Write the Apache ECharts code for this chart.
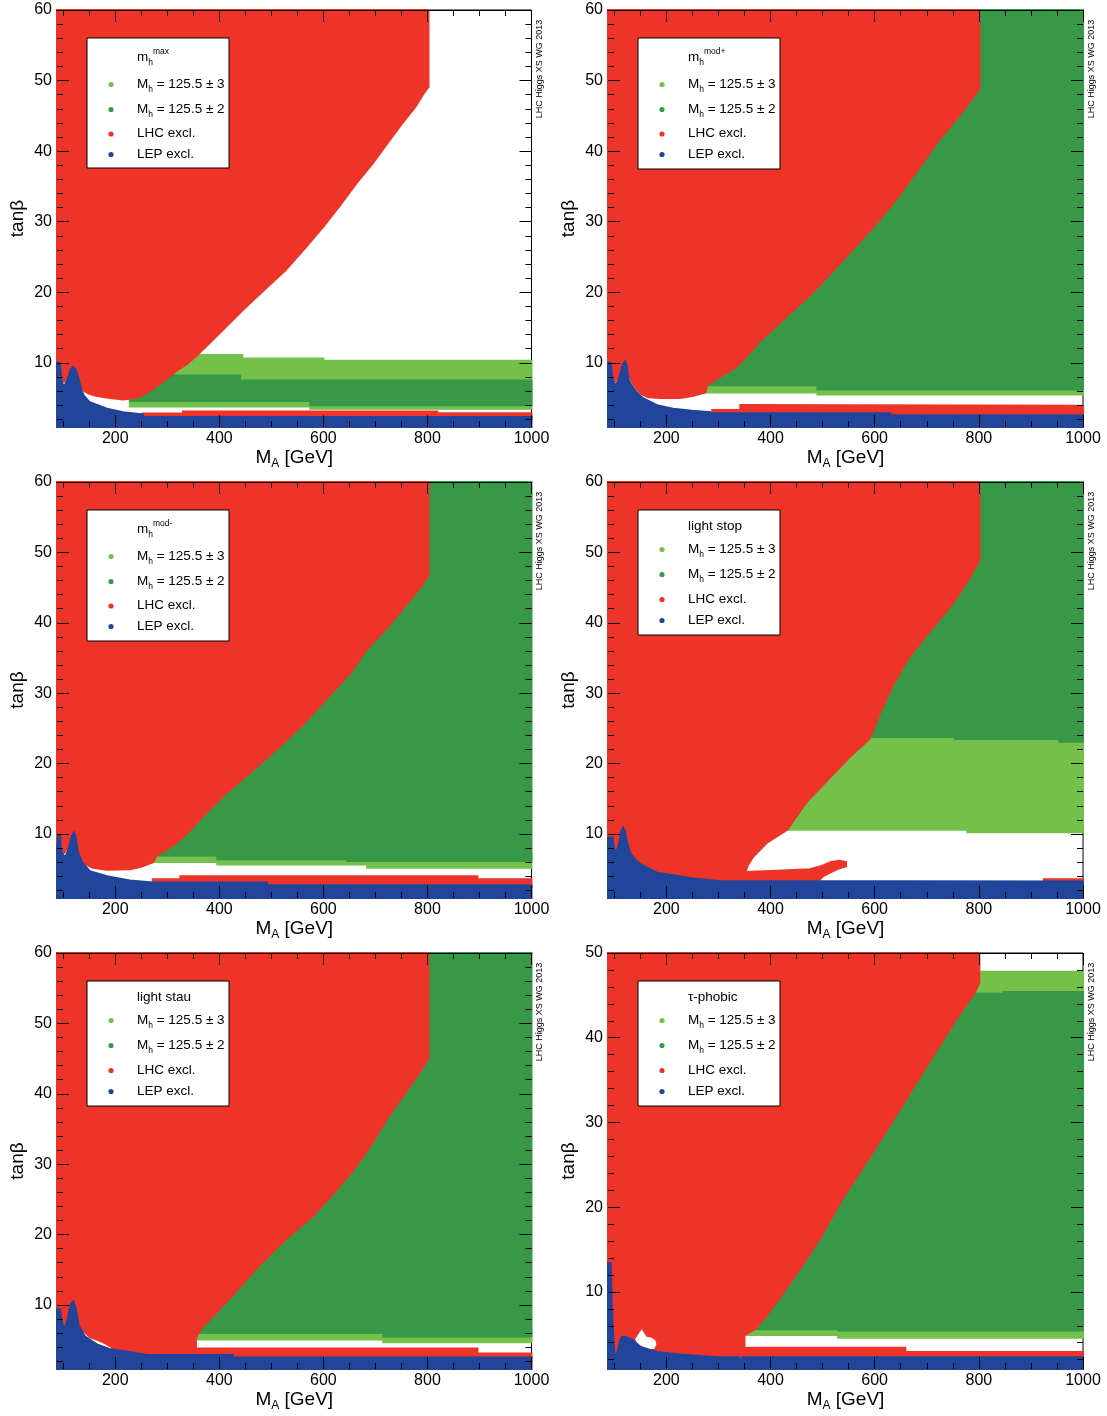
<!DOCTYPE html>
<html><head><meta charset="utf-8">
<script src="https://cdn.jsdelivr.net/npm/echarts@6/dist/echarts.min.js"></script>
<style>html,body{margin:0;padding:0;background:#fff}#c{width:1107px;height:1416px}</style>
</head><body><div id="c"></div>
<script>
// ---------- axis ticks ----------
const X_MIN = 88, X_MAX = 1000, Y_MIN = 0.9;
const xMajor = [200, 400, 600, 800, 1000];
const xMinor = [100, 150, 250, 300, 350, 450, 500, 550, 650, 700, 750, 850, 900, 950];
const yMajor60 = [10, 20, 30, 40, 50, 60];
const yMinor60 = [2, 4, 6, 8, 12, 14, 16, 18, 22, 24, 26, 28, 32, 34, 36, 38, 42, 44, 46, 48, 52, 54, 56, 58];
const yMajor50 = [10, 20, 30, 40, 50];
const yMinor50 = [2, 4, 6, 8, 12, 14, 16, 18, 22, 24, 26, 28, 32, 34, 36, 38, 42, 44, 46, 48];

// ---------- legend texts ----------
const legendTitles = ['{n|m}{s|h}{p|max}', '{n|m}{s|h}{p|mod+}', '{n|m}{s|h}{p|mod-}', '{n|light stop}', '{n|light stau}', '{n|τ-phobic}'];
const legendLabels = ['{n|M}{s|h}{n| = 125.5 ± 3}', '{n|M}{s|h}{n| = 125.5 ± 2}', '{n|LHC excl.}', '{n|LEP excl.}'];
const watermark = 'LHC Higgs XS WG 2013';

// ---------- regions (MA [GeV], tanβ) : mhmax ----------
const mhmax_g3 = [[228,3.8],[575,3.8],[575,3.5],[1000,3.5],[1000,10.3],[600,10.3],[600,10.6],[444,10.6],[444,11.1],[228,11.1]];
const mhmax_g2 = [[228,4.6],[575,4.6],[575,4.0],[1000,4.0],[1000,7.5],[440,7.5],[440,8.2],[228,8.2]];
const mhmax_lhc = [[88,60],[802,60],[802,49.1],[793,48.2],[777,46.3],[751,43.9],[725,41.3],[694,38.2],[663,35.4],[632,32.3],[600,29.3],[564,26.2],[527,23.1],[486,20.3],[444,17.4],[406,14.6],[373,12.2],[353,10.8],[337,9.8],[320,9.0],[303,8.0],[285,7.0],[267,6.0],[250,5.3],[238,5.0],[215,4.8],[190,5.0],[165,5.3],[150,5.6],[140,6.0],[134,6.6],[130,7.3],[127,8.2],[110,8.2],[102,7.3],[88,7.3]];
const mhmax_lhcStrip = [[253,2.0],[253,2.8],[330,2.8],[330,3.1],[819,3.1],[819,2.85],[1000,2.85],[1000,2.0]];
const mhmax_lep = [[88,0.9],[1000,0.9],[1000,2.3],[253,2.3],[253,2.7],[215,3.0],[184,3.5],[151,4.4],[140,5.3],[135,6.1],[129,7.8],[124,9.0],[119,9.4],[114,9.0],[109,7.8],[104,6.9],[99,6.9],[96,7.6],[94,9.5],[92,10.0],[88,10.0]];

// ---------- mhmod+ ----------
const mhmodp_g3 = [[270,5.8],[490,5.8],[490,5.5],[1000,5.5],[1000,7.0],[270,7.0]];
const mhmodp_g2 = [[270,6.8],[490,6.8],[490,6.2],[1000,6.2],[1000,60],[270,60]];
const mhmodp_lhc = [[88,60],[801,60],[801,48.9],[771,45.8],[728,42.0],[687,37.8],[645,33.5],[604,29.8],[562,26.4],[521,23.1],[479,19.8],[428,16.4],[380,13.1],[350,10.6],[332,9.3],[309,8.3],[290,7.4],[278,6.8],[275,5.8],[250,5.3],[226,5.0],[190,5.0],[165,5.1],[152,5.6],[146,6.0],[138,6.8],[132,7.6],[128,8.5],[110,8.5],[102,7.3],[88,7.3]];
const mhmodp_lhcStrip = [[288,2.4],[288,3.3],[342,3.3],[342,4.0],[1000,3.9],[1000,2.4]];
const mhmodp_lep = [[88,0.9],[1000,0.9],[1000,2.55],[630,2.55],[630,2.85],[284,2.85],[284,3.0],[250,3.2],[213,3.5],[182,4.0],[155,5.0],[144,5.7],[136,6.5],[128,7.5],[124,9.5],[121,10.2],[117,9.8],[112,8.5],[106,7.2],[101,6.8],[97,7.5],[94,9.5],[92,10.0],[88,10.0]];

// ---------- mhmod- ----------
const mhmodm_g3 = [[272,6.0],[396,6.0],[396,5.67],[684,5.67],[684,5.2],[1000,5.2],[1000,7.2],[272,7.2]];
const mhmodm_g2 = [[272,6.95],[396,6.95],[396,6.4],[646,6.4],[646,6.15],[1000,6.15],[1000,60],[272,60]];
const mhmodm_lhc = [[88,60],[802,60],[802,46.8],[788,45.2],[756,42.3],[725,39.5],[683,36.2],[652,32.9],[616,30.0],[564,25.8],[517,22.5],[465,19.1],[413,15.8],[368,12.5],[340,10.2],[312,8.4],[292,7.5],[278,6.8],[273,6.0],[248,5.3],[228,5.0],[184,4.9],[157,5.2],[145,5.6],[138,6.0],[132,6.8],[128,7.4],[125,8.4],[110,8.4],[102,7.3],[88,7.3]];
const mhmodm_lhcStrip = [[272,2.5],[272,3.55],[325,3.55],[325,4.0],[896,4.0],[896,3.55],[1000,3.55],[1000,2.5]];
const mhmodm_lep = [[88,0.9],[1000,0.9],[1000,2.7],[492,2.7],[492,3.1],[272,3.1],[228,3.4],[184,4.0],[151,4.7],[136,6.0],[128,7.4],[124,9.4],[121,10.2],[117,9.8],[112,8.4],[106,7.0],[101,6.8],[97,7.5],[95,8.2],[94,9.8],[90,9.8],[89,8.2],[88,8.2]];

// ---------- light stop ----------
const lstop_g2 = [[560,22],[1000,22],[1000,60],[560,60]];
const lstop_g3 = [[420,10.6],[778,10.6],[778,10.25],[1000,10.25],[1000,22.8],[951,22.8],[951,23.2],[750,23.2],[750,23.5],[420,23.5]];
const lstop_lhc = [[88,60],[801,60],[801,48.9],[780,46.1],[750,42.8],[708,39.0],[667,35.2],[635,31.2],[608,26.8],[590,23.5],[553,21.0],[510,17.7],[469,14.5],[432,10.6],[394,8.8],[367,6.8],[356,5.5],[352,4.6],[400,4.75],[476,5.0],[500,5.5],[515,6.0],[532,6.2],[545,6.0],[545,5.4],[528,5.0],[501,4.0],[490,3.2],[88,3.0]];
const lstop_lhcStrip = [[925,3.0],[925,3.55],[1000,3.55],[1000,3.0]];
const lstop_lep = [[88,0.9],[1000,0.9],[1000,3.25],[300,3.3],[246,3.7],[226,4.0],[182,4.5],[150,5.7],[138,6.5],[130,7.4],[124,9.0],[120,10.5],[117,10.9],[114,10.5],[110,8.8],[105,7.6],[101,7.6],[98,8.5],[97,9.5],[88,9.5]];

// ---------- light stau ----------
const lstau_g3 = [[355,5.1],[715,5.1],[715,4.7],[1000,4.7],[1000,6.2],[355,6.2]];
const lstau_g2 = [[355,6.0],[715,6.0],[715,5.5],[1000,5.5],[1000,60],[355,60]];
const lstau_lhc = [[88,60],[802,60],[802,45.1],[788,43.4],[757,40.1],[725,36.8],[694,33.0],[663,29.7],[621,26.0],[579,22.6],[527,19.3],[475,15.5],[423,11.2],[402,9.6],[385,8.2],[369,7.0],[358,5.8],[355,5.2],[355,3.8],[896,3.8],[896,3.1],[1000,3.1],[1000,2.0],[88,2.0]];
const lstau_gap = [[127,7.8],[131,7.0],[138,6.2],[150,5.3],[165,4.9],[180,4.4],[192,3.9],[190,3.4],[165,3.8],[142,4.8],[128,6.5]];
const lstau_lep = [[88,0.9],[1000,0.9],[1000,2.55],[426,2.55],[426,2.9],[261,2.9],[228,3.3],[190,3.7],[165,4.4],[142,5.5],[129,7.2],[124,9.5],[119,10.5],[114,10.0],[110,8.5],[105,7.0],[100,6.9],[96,8.0],[94,9.4],[88,9.4]];

// ---------- tau-phobic ----------
const tphob_g3low = [[350,4.9],[530,4.9],[530,4.6],[1000,4.6],[1000,5.8],[350,5.8]];
const tphob_g3top = [[700,45.0],[1000,45.0],[1000,47.8],[700,47.8]];
const tphob_g2 = [[350,5.6],[530,5.6],[530,5.45],[1000,5.45],[1000,45.4],[848,45.4],[848,45.2],[350,45.2]];
const tphob_lhc = [[88,50],[801,50],[801,46.5],[792,45.3],[760,42.5],[728,39.4],[687,35.4],[648,31.5],[608,27.6],[570,24.0],[533,20.5],[495,16.3],[455,12.6],[420,9.5],[390,7.0],[370,5.6],[352,5.0],[350,4.9],[350,3.4],[659,3.4],[659,2.9],[1000,2.9],[1000,2.0],[88,2.0]];
const tphob_gap = [[140,4.4],[147,5.1],[153,5.6],[158,5.1],[162,4.7],[172,4.6],[179,4.3],[181,3.8],[177,3.3],[165,3.2],[152,3.6],[143,4.0]];
const tphob_lep = [[88,0.9],[1000,0.9],[1000,2.3],[346,2.3],[343,1.8],[339,2.3],[298,2.3],[226,2.6],[182,2.9],[150,3.5],[136,4.3],[121,4.7],[115,4.7],[111,4.2],[108,3.3],[104,2.6],[100,2.6],[99,4.0],[97,6.0],[95,9.0],[94,11.5],[93,13.4],[88,13.4]];

// ---------- styling ----------
const C_LG = '#73C04B', C_DG = '#379847', C_RED = '#EE3429', C_BLUE = '#21459B', C_GAP = '#ffffff';
const legendColors = [C_LG, C_DG, C_RED, C_BLUE];
const FONT = '"Liberation Sans", Arial, Helvetica, sans-serif';

const panels = [
  { yMax: 60, legH: 130, titleType: 'mh', layers: [[mhmax_g3, C_LG], [mhmax_g2, C_DG], [mhmax_lhc, C_RED], [mhmax_lhcStrip, C_RED], [mhmax_lep, C_BLUE]] },
  { yMax: 60, legH: 131, titleType: 'mh', layers: [[mhmodp_g3, C_LG], [mhmodp_g2, C_DG], [mhmodp_lhc, C_RED], [mhmodp_lhcStrip, C_RED], [mhmodp_lep, C_BLUE]] },
  { yMax: 60, legH: 131, titleType: 'mh', layers: [[mhmodm_g3, C_LG], [mhmodm_g2, C_DG], [mhmodm_lhc, C_RED], [mhmodm_lhcStrip, C_RED], [mhmodm_lep, C_BLUE]] },
  { yMax: 60, legH: 125, titleType: 'txt', layers: [[lstop_g2, C_DG], [lstop_g3, C_LG], [lstop_lhc, C_RED], [lstop_lhcStrip, C_RED], [lstop_lep, C_BLUE]] },
  { yMax: 60, legH: 125, titleType: 'txt', layers: [[lstau_g3, C_LG], [lstau_g2, C_DG], [lstau_lhc, C_RED], [lstau_gap, C_GAP], [lstau_lep, C_BLUE]] },
  { yMax: 50, legH: 125, titleType: 'txt', layers: [[tphob_g3low, C_LG], [tphob_g3top, C_LG], [tphob_g2, C_DG], [tphob_lhc, C_RED], [tphob_gap, C_GAP], [tphob_lep, C_BLUE]] }
];

const colLeft = [57, 608], colWidth = [474.5, 475];
const rowTop = [10, 482, 953], rowHeight = [417, 416, 416];

const grids = [], xAxes = [], yAxes = [], series = [], graphics = [];
const richLegend = {
  n: { fontSize: 13.5, fontFamily: FONT, fill: '#000', lineHeight: 20 },
  s: { fontSize: 8.5, fontFamily: FONT, fill: '#000', lineHeight: 9, verticalAlign: 'bottom' },
  p: { fontSize: 8.5, fontFamily: FONT, fill: '#000', lineHeight: 9, verticalAlign: 'top' }
};
const plainNum = v => String(v);

function xAx(i, pos, vals, len, withLabels) {
  const a = {
    type: 'value', gridIndex: i, min: X_MIN, max: X_MAX, position: pos, z: 10,
    axisLine: { show: pos === 'top', onZero: false, lineStyle: { color: '#000', width: 1 } },
    axisTick: { show: true, inside: true, length: len, customValues: vals, lineStyle: { color: '#000', width: 1 } },
    axisLabel: withLabels ? { show: true, customValues: vals, formatter: plainNum, margin: 4, fontSize: 16, fontFamily: FONT, color: '#000' } : { show: false },
    splitLine: { show: false }
  };
  if (withLabels) {
    a.name = '{m|M}{s|A}{m| [GeV]}';
    a.nameLocation = 'middle';
    a.nameGap = 19;
    a.nameTextStyle = { rich: {
      m: { fontSize: 19, fontFamily: FONT, color: '#000', lineHeight: 24 },
      s: { fontSize: 12, fontFamily: FONT, color: '#000', lineHeight: 12, verticalAlign: 'bottom' }
    } };
  }
  return a;
}
function yAx(i, pos, vals, len, withLabels, yMax) {
  const a = {
    type: 'value', gridIndex: i, min: Y_MIN, max: yMax, position: pos, z: 10,
    axisLine: { show: false, onZero: false },
    axisTick: { show: true, inside: true, length: len, customValues: vals, lineStyle: { color: '#000', width: 1 } },
    axisLabel: withLabels ? { show: true, customValues: vals, formatter: plainNum, margin: 5, fontSize: 16, fontFamily: FONT, color: '#000' } : { show: false },
    splitLine: { show: false }
  };
  if (withLabels) {
    a.name = 'tanβ';
    a.nameLocation = 'middle';
    a.nameRotate = 90;
    a.nameGap = 30;
    a.nameTextStyle = { fontSize: 19, fontFamily: FONT, color: '#000' };
  }
  return a;
}

panels.forEach((pn, i) => {
  const col = i % 2, row = Math.floor(i / 2);
  const L = colLeft[col], W = colWidth[col], T = rowTop[row], H = rowHeight[row];
  grids.push({ left: L, top: T, width: W, height: H, show: true, borderColor: '#000', borderWidth: 1, backgroundColor: 'transparent' });
  xAxes.push(xAx(i, 'bottom', xMajor, 12, true), xAx(i, 'bottom', xMinor, 6, false), xAx(i, 'top', xMajor, 12, false), xAx(i, 'top', xMinor, 6, false));
  const yMaj = pn.yMax === 60 ? yMajor60 : yMajor50, yMin = pn.yMax === 60 ? yMinor60 : yMinor50;
  yAxes.push(yAx(i, 'left', yMaj, 12, true, pn.yMax), yAx(i, 'left', yMin, 6, false, pn.yMax), yAx(i, 'right', yMaj, 12, false, pn.yMax), yAx(i, 'right', yMin, 6, false, pn.yMax));

  pn.layers.forEach(([poly, color]) => {
    const isGap = color === C_GAP;
    series.push({
      type: 'custom', xAxisIndex: i * 4, yAxisIndex: i * 4, clip: false, silent: true, z: 2,
      data: [poly[0]],
      renderItem: function (params, api) {
        return { type: 'polygon', shape: { points: poly.map(p => api.coord(p)) },
          style: isGap ? { fill: color } : { fill: color, stroke: color, lineWidth: 2 } };
      }
    });
  });

  // legend box
  const bx = L + 30, by = T + 28;
  graphics.push({ type: 'rect', shape: { x: bx, y: by, width: 142, height: pn.legH }, style: { fill: '#fff', stroke: '#000', lineWidth: 1 }, z: 20 });
  const titleY = pn.titleType === 'mh' ? T + 47.5 : T + 44;
  const rowsY = pn.titleType === 'mh' ? [T + 74, T + 99, T + 123.5, T + 144] : [T + 67, T + 92, T + 117, T + 138];
  graphics.push({ type: 'text', x: bx + 50, y: titleY, z: 21, style: { text: legendTitles[i], rich: richLegend, verticalAlign: 'middle', align: 'left' } });
  legendLabels.forEach((lab, k) => {
    graphics.push({ type: 'circle', shape: { cx: bx + 24, cy: rowsY[k] + 0.5, r: 2.6 }, style: { fill: legendColors[k] }, z: 21 });
    graphics.push({ type: 'text', x: bx + 50, y: rowsY[k], z: 21, style: { text: lab, rich: richLegend, verticalAlign: 'middle', align: 'left' } });
  });
  // watermark
  graphics.push({ type: 'text', x: L + W + 8.5, y: T + 59, rotation: Math.PI / 2, z: 21,
    style: { text: watermark, fontSize: 9, fontFamily: FONT, fill: '#000', align: 'center', verticalAlign: 'middle' } });
});

const chart = echarts.init(document.getElementById('c'), null, { renderer: 'canvas' });
chart.setOption({
  animation: false,
  backgroundColor: '#fff',
  grid: grids, xAxis: xAxes, yAxis: yAxes, series: series, graphic: graphics
});
</script></body></html>
